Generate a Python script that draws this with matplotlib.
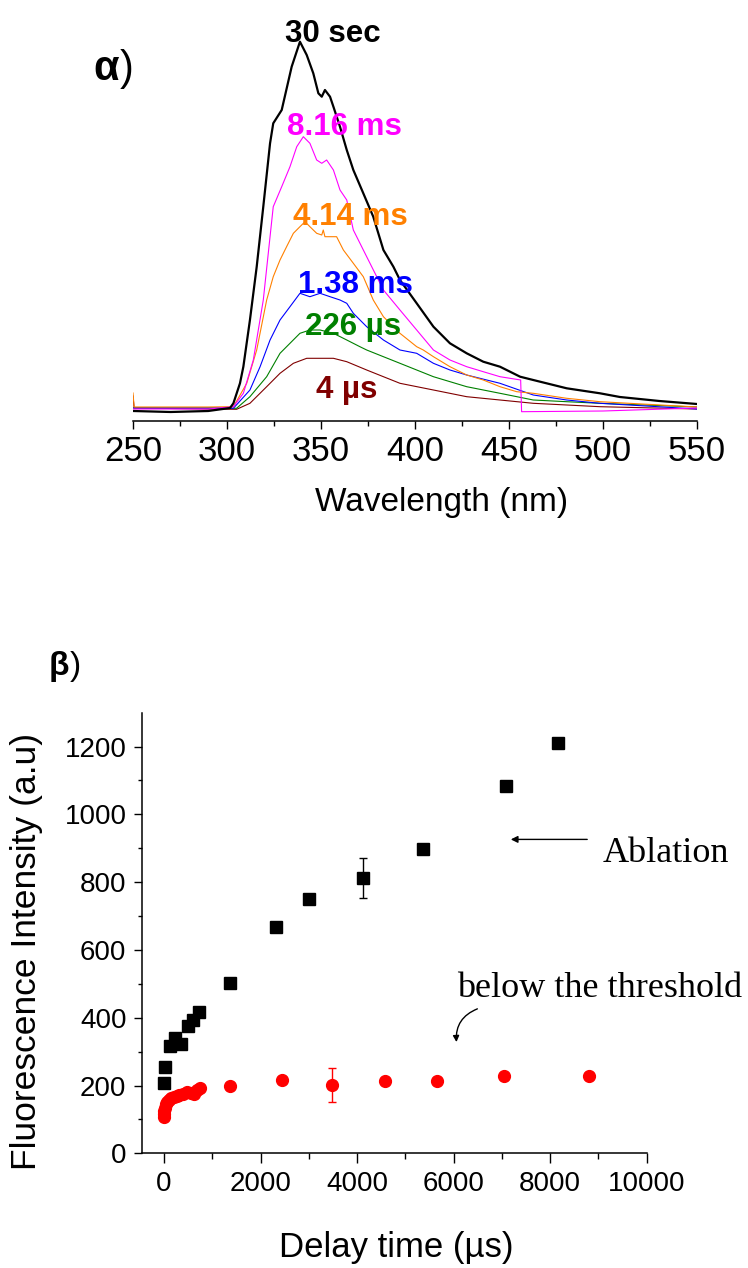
import matplotlib
matplotlib.use('Agg')
import matplotlib.pyplot as plt
from matplotlib.ticker import MultipleLocator

plt.rcParams['font.family'] = ['Liberation Sans', 'DejaVu Sans']

# --- panel (a): fluorescence spectra, intensity in arbitrary units ---
wl_30s = [250.2, 270, 290, 301.6, 303.4, 306.9, 308.7, 312.2, 315.8, 319.3, 322.9, 324.6, 329.1,
          334.4, 338.8, 342.4, 345.9, 348.6, 350.4, 352.1, 354.8, 356.6, 360.1, 363.7, 367.2,
          372.5, 377.8, 383.2, 388.5, 392.0, 400.9, 409.8, 418.6, 427.5, 436.3, 445.2, 455.9,
          462.9, 480.7, 498.4, 509, 530, 550]
int_30s = [10, 9, 10, 13, 17.7, 37.7, 54.3, 101, 154.3, 214.3, 277.7, 297.7, 311,
           354.3, 379.3, 366, 347.7, 327.7, 324.3, 331, 324.3, 314.3, 294.3, 271, 251,
           227.7, 204.3, 171, 154.3, 141, 117.7, 94.3, 77.7, 67.7, 59.3, 54.3, 44.3,
           41, 32.7, 27.7, 24, 20, 17]

wl_816 = [250.2, 290, 303.4, 308.7, 314.0, 319.3, 324.6, 329.1, 333.5, 337.1, 340.6, 344.1,
          347.7, 350.4, 353.0, 356.6, 360.1, 363.7, 367.2, 374.3, 383.2, 392.0, 400.9, 409.8,
          418.6, 427.5, 436.3, 445.2, 456.2, 456.7, 500, 550]
int_816 = [12, 12, 14.3, 27.7, 61, 121, 214.3, 234.3, 254.3, 274.3, 284.3, 277.7,
           261, 257.7, 261, 251, 231, 221, 191, 164.3, 131, 111, 91, 71,
           61, 54.3, 49.3, 44.3, 41, 9.3, 10, 13]

wl_414 = [250.0, 250.6, 290, 303.4, 310.5, 315.8, 321.1, 324.6, 328.2, 331.7, 335.3, 338.8,
          341.5, 344.1, 347.7, 350.4, 351.2, 352.1, 358.3, 361.9, 367.2, 372.5, 377.8, 383.2,
          392.0, 400.9, 404.4, 409.8, 418.6, 427.5, 436.3, 445.2, 454.1, 462.9, 480.7, 498.4, 550]
int_414 = [28, 14, 14, 14.3, 37.7, 71, 121, 144.3, 161, 174.3, 187.7, 194.3,
           199.3, 194.3, 187.7, 186, 191, 184.3, 184.3, 171, 157.7, 144.3, 121, 104.3,
           87.7, 74.3, 71, 64.3, 54.3, 46, 41, 34.3, 29.3, 27.7, 22.7, 19.3, 14]

wl_138 = [250.2, 290, 303.4, 312.2, 317.6, 322.9, 328.2, 333.5, 338.8, 344.1, 349.5, 354.8,
          360.1, 363.7, 367.2, 374.3, 383.2, 392.0, 400.9, 409.8, 418.6, 427.5, 445.2, 462.9,
          480.7, 498.4, 550]
int_138 = [13, 13, 12.7, 31, 54.3, 81, 101, 114.3, 127.7, 124.3, 127.7, 124.3,
           121, 117.7, 107.7, 94.3, 81, 71, 67.7, 57.7, 51, 46, 37.7, 26,
           21, 17.7, 12]

wl_226 = [250.2, 290, 305.1, 312.2, 321.1, 328.2, 333.5, 338.8, 344.1, 349.5, 356.6, 363.7,
          370.7, 374.3, 383.2, 392.0, 400.9, 409.8, 427.5, 445.2, 462.9, 480.7, 498.4, 550]
int_226 = [13, 13, 12.7, 24.3, 44.3, 67.7, 77.7, 87.7, 91, 91, 87.7, 81,
           74.3, 71, 64.3, 57.7, 51, 44.3, 34.3, 27.7, 21, 19.3, 17.7, 14]

wl_4 = [250.0, 250.6, 290, 305.1, 312.2, 321.1, 328.2, 335.3, 342.4, 349.5, 356.6, 363.7,
        374.3, 383.2, 392.0, 409.8, 427.5, 445.2, 462.9, 480.7, 498.4, 550]
int_4 = [25, 13, 12, 11.7, 17.7, 34.3, 47.7, 57.7, 62.7, 62.7, 62.7, 59.3,
         51, 44.3, 37.7, 31, 24.3, 21, 17.7, 16, 14.3, 12]

# --- panel (b): fluorescence intensity vs delay time ---
abl_t = [0, 20, 120, 230, 350, 490, 610, 730, 1370, 2330, 3010, 4130, 5370, 7080, 8160]
abl_I = [208, 254, 318, 340, 322, 375, 394, 416, 502, 667, 749, 812, 898, 1084, 1210]
abl_err = [0, 0, 0, 0, 0, 0, 0, 0, 0, 0, 0, 59, 0, 0, 0]

thr_t = [0, 4, 8, 20, 40, 70, 100, 150, 200, 260, 320, 400, 480, 560, 620, 680, 740,
         1360, 2440, 3490, 4580, 5650, 7040, 8800]
thr_I = [108, 115, 125, 135, 145, 152, 158, 163, 167, 170, 173, 176, 182, 178, 176, 186, 193,
         200, 216, 202, 212, 212, 229, 227]
thr_err = [0] * 19 + [50] + [0] * 4

W, H = 748, 1268
fig = plt.figure(figsize=(W / 100, H / 100), dpi=100)

# ---------------- top panel ----------------
ax1 = fig.add_axes([133 / W, 1 - 421 / H, 564 / W, 400 / H])
ax1.plot(wl_4, int_4, color='#800000', lw=0.8)
ax1.plot(wl_226, int_226, color='#008000', lw=0.8)
ax1.plot(wl_138, int_138, color='#0000ff', lw=0.8)
ax1.plot(wl_414, int_414, color='#ff8000', lw=0.8)
ax1.plot(wl_816, int_816, color='#ff00ff', lw=0.8)
ax1.plot(wl_30s, int_30s, color='black', lw=1.6)
ax1.set_xlim(250, 550)
ax1.set_ylim(0, 400)
for s in ['top', 'left', 'right']:
    ax1.spines[s].set_visible(False)
ax1.spines['bottom'].set_linewidth(1.1)
ax1.yaxis.set_visible(False)
ax1.xaxis.set_major_locator(MultipleLocator(50))
ax1.xaxis.set_minor_locator(MultipleLocator(25))
ax1.tick_params(axis='x', which='major', direction='out', length=6, width=1, labelsize=25, pad=4)
ax1.tick_params(axis='x', which='minor', direction='out', length=3.5, width=1)

labels = [('30 sec', 356.1, 379.3, 'black'),
          ('8.16 ms', 362.3, 286, '#ff00ff'),
          ('4.14 ms', 365.4, 196, '#ff8000'),
          ('1.38 ms', 368.5, 127.7, '#0000ff'),
          ('226 µs', 367.2, 86, '#008000'),
          ('4 µs', 363.7, 22.7, '#800000')]
for txt, lx, ly, c in labels:
    ax1.text(lx, ly, txt, color=c, fontsize=22.5, fontweight='bold', ha='center', va='baseline')

fig.text(441.7 / W, 1 - 502 / H, 'Wavelength (nm)', fontsize=24, ha='center', va='center')
fig.text(119 / W, 1 - 80 / H, 'α', fontsize=30, fontweight='bold', ha='right', va='baseline')
fig.text(120 / W, 1 - 80 / H, ')', fontsize=30, ha='left', va='baseline')

# ---------------- bottom panel ----------------
ax2 = fig.add_axes([141.7 / W, 1 - 1153.3 / H, 505 / W, 440 / H])
ax2.errorbar(thr_t, thr_I, yerr=thr_err, fmt='o', color='red', ms=8.5, mec='red',
             elinewidth=1, capsize=3, capthick=1)
ax2.errorbar(abl_t, abl_I, yerr=abl_err, fmt='s', color='black', ms=8, mec='black',
             elinewidth=1, capsize=3, capthick=1)
ax2.set_xlim(-462, 10000)
ax2.set_ylim(0, 1298)
ax2.spines['top'].set_visible(False)
ax2.spines['right'].set_visible(False)
ax2.spines['left'].set_linewidth(1.1)
ax2.spines['bottom'].set_linewidth(1.1)
ax2.xaxis.set_major_locator(MultipleLocator(2000))
ax2.xaxis.set_minor_locator(MultipleLocator(1000))
ax2.yaxis.set_major_locator(MultipleLocator(200))
ax2.yaxis.set_minor_locator(MultipleLocator(100))
ax2.tick_params(axis='x', which='major', direction='out', length=7.5, width=1, labelsize=20, pad=5)
ax2.tick_params(axis='x', which='minor', direction='out', length=4.5, width=1)
ax2.tick_params(axis='y', which='major', direction='out', length=6, width=1, labelsize=20, pad=5)
ax2.tick_params(axis='y', which='minor', direction='out', length=3, width=1)

ax2.annotate('', xy=(7127, 926), xytext=(8825, 926),
             arrowprops=dict(arrowstyle='-|>', color='black', lw=1, mutation_scale=10))
ax2.text(9095, 860, 'Ablation', fontsize=26, family='Liberation Serif', ha='left', va='baseline',
         clip_on=False)
ax2.text(6064, 462, 'below the threshold', fontsize=26, family='Liberation Serif',
         ha='left', va='baseline', clip_on=False)
ax2.annotate('', xy=(6064, 320), xytext=(6546, 429),
             arrowprops=dict(arrowstyle='-|>', color='black', lw=1, mutation_scale=9,
                             connectionstyle='arc3,rad=0.4'))

fig.text(27 / W, 1 - 951 / H, 'Fluorescence Intensity (a.u)', fontsize=25.5, rotation=90,
         ha='center', va='center')
fig.text(395.8 / W, 1 - 1247 / H, 'Delay time (µs)', fontsize=25, ha='center', va='center')
fig.text(69 / W, 1 - 675 / H, 'β', fontsize=24, fontweight='bold', ha='right', va='baseline')
fig.text(69.5 / W, 1 - 675 / H, ')', fontsize=24, ha='left', va='baseline')

fig.savefig('out.png', dpi=100)
